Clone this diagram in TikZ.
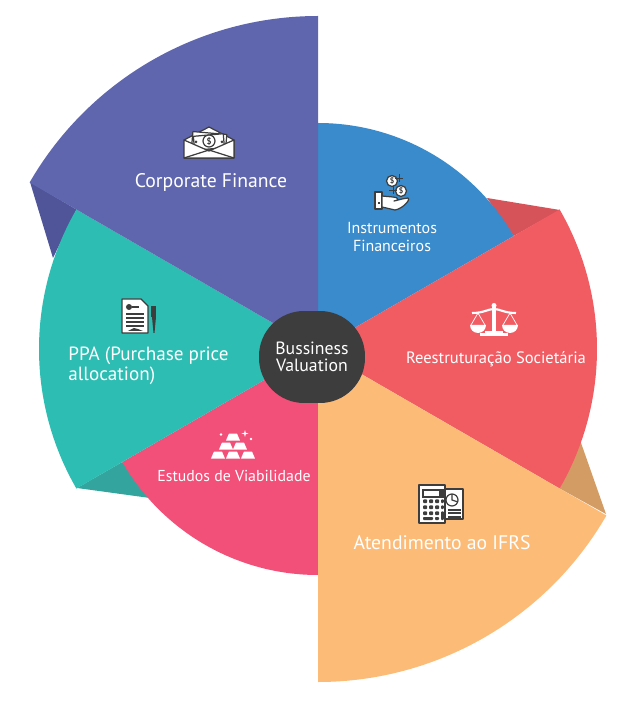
\documentclass[tikz,border=0pt]{standalone}
\usepackage{fontspec}
\setmainfont{PT Sans}
\definecolor{purplearm}{HTML}{6066AE}
\definecolor{purpledark}{HTML}{4F5598}
\definecolor{bluearm}{HTML}{398BCB}
\definecolor{redarm}{HTML}{F15C63}
\definecolor{reddark}{HTML}{D65359}
\definecolor{orangearm}{HTML}{FDBB78}
\definecolor{orangedark}{HTML}{D49C65}
\definecolor{pinkarm}{HTML}{F24F79}
\definecolor{tealarm}{HTML}{2DBDB3}
\definecolor{tealdark}{HTML}{33A59E}
\definecolor{corefill}{HTML}{3D3D3D}
\tikzset{
  lbl/.style={text=white, inner sep=0pt, align=center},
  iconw/.style={fill=white, draw=corefill, line width=0.7pt, line join=round},
  iconk/.style={draw=corefill, line width=0.7pt},
}
\begin{document}
\begin{tikzpicture}[x=0.02cm, y=0.02cm]
\useasboundingbox (-318,-364) rectangle (307,349);
\fill[white] (-318,-364) rectangle (307,349);
% shadows
\fill[purpledark] (-288,167) -- (-265,91) -- (150:279) -- cycle;
\fill[tealdark] (-241,-139) -- (-168,-149) -- (210:226) -- cycle;
\fill[reddark] (242,139) -- (169,151) -- (30:226) -- cycle;
\fill[orangedark] (288,-165) -- (262,-91) -- (-30:279) -- cycle;
% slices
\fill[bluearm] (0,0) -- (30:226) arc[start angle=30, end angle=90, radius=226] -- cycle;
\fill[pinkarm] (0,0) -- (210:226) arc[start angle=210, end angle=270, radius=226] -- cycle;
\fill[tealarm] (0,0) -- (150:279) arc[start angle=150, end angle=210, radius=279] -- cycle;
\fill[redarm] (0,0) -- (-30:279) arc[start angle=-30, end angle=30, radius=279] -- cycle;
\fill[purplearm] (0,0) -- (90:333) arc[start angle=90, end angle=150, radius=333] -- cycle;
\fill[orangearm] (0,0) -- (-90:333) arc[start angle=-90, end angle=-30, radius=333] -- cycle;

\node[fill=corefill, rounded corners=0.9cm, minimum width=2.12cm, minimum height=1.84cm, lbl, font=\fontsize{10.1}{9.8}\selectfont] (core) at (-6,-8) {Bussiness\\Valuation};

\node[lbl, font=\fontsize{11.2}{12}\selectfont] (corporate) at (-107,167) {Corporate Finance};
\node[lbl, font=\fontsize{9.1}{10.2}\selectfont] (instrumentos) at (74,112) {Instrumentos\\Financeiros};
\node[lbl, font=\fontsize{9.4}{12}\selectfont] (reestruturacao) at (178,-10) {Reestruturação Societária};
\node[lbl, font=\fontsize{11.2}{12}\selectfont] (atendimento) at (124,-194) {Atendimento ao IFRS};
\node[lbl, font=\fontsize{10.9}{11.4}\selectfont, align=left] (ppa) at (-169.5,-17) {PPA (Purchase price\\allocation)};
\node[lbl, font=\fontsize{9}{10}\selectfont] (estudos) at (-84,-127) {Estudos de Viabilidade};

% envelope
\begin{scope}[shift={(-109,206)}]
\path[iconw] (-25,3) -- (0,16) -- (25,3) -- (25,-15) -- (-25,-15) -- cycle;
\path[iconw, rotate=-5] (-17,-6) rectangle (17,10);
\path[iconw, rotate=5] (-15,-6) rectangle (15,8);
\draw[iconk, fill=white] (0,2) circle (6);
\node[inner sep=0pt, text=corefill, font=\fontsize{5}{5}\selectfont\bfseries] (cash) at (0,2) {\$};
\fill[corefill] (-13,1) circle (1.5) (13,1) circle (1.5);
\path[iconw] (-25,3) -- (0,-8) -- (25,3) -- (25,-15) -- (-25,-15) -- cycle;
\draw[iconk] (-25,-15) -- (0,-7) -- (25,-15);
\end{scope}
% hand with coins
\begin{scope}[shift={(74,157)}]
\path[iconw] (-17,-17) rectangle (-10,0);
\fill[corefill] (-14,-12) rectangle (-12,-10);
\path[iconw] (-10,-4) -- (1,-5) .. controls (7,-5) and (7,-9) .. (2,-9) -- (10,-7) -- (16,-6) .. controls (19,-8) and (10,-17) .. (3,-18) -- (-10,-15) -- cycle;
\draw[iconk, fill=white] (0,11) circle (5.5);
\draw[iconk, fill=white] (9,1) circle (5.5);
\node[inner sep=0pt, text=corefill, font=\fontsize{4.5}{4.5}\selectfont\bfseries] (coin1) at (0,11) {\$};
\node[inner sep=0pt, text=corefill, font=\fontsize{4.5}{4.5}\selectfont\bfseries] (coin2) at (9,1) {\$};
\draw[corefill, line width=0.4pt] (7,10) -- (7,18) (3,14) -- (11,14);
\draw[corefill, line width=0.4pt] (1,-2) -- (1,6) (-3,2) -- (5,2);
\end{scope}
% scales
\begin{scope}[shift={(176,29)}]
\fill[white] (-1.7,-11) rectangle (1.7,14);
\fill[white] (0,14.5) circle (2.5);
\fill[white] (-14,-16) rectangle (14,-13);
\fill[white] (-9,-13) rectangle (9,-11);
\draw[white, line width=1.2pt] (-22,7) .. controls (-10,7) and (-6,11) .. (0,11) .. controls (6,11) and (10,7) .. (22,7);
\draw[white, line width=0.4pt] (-16,7) -- (-23,-5) (-16,7) -- (-9,-5) (16,7) -- (9,-5) (16,7) -- (23,-5);
\fill[white] (-24,-5) -- (-8,-5) arc[start angle=0, end angle=-180, radius=8] -- cycle;
\fill[white] (8,-5) -- (24,-5) arc[start angle=0, end angle=-180, radius=8] -- cycle;
\end{scope}
% document and pen
\begin{scope}[shift={(-178,32)}]
\path[iconw] (-18,18) -- (1,18) -- (8,11) -- (8,-16) -- (-18,-16) -- cycle;
\fill[corefill] (-11,10) circle (3);
\fill[corefill] (-8,9) rectangle (-1,11);
\foreach \ypos in {4,0,-4,-8}
  \fill[corefill] (-14,\ypos) rectangle (4,\ypos-1.8);
\fill[corefill] (-12,-14) -- (-6,-11) -- (-2,-12) -- (3,-14) -- cycle;
\fill[corefill] (11.5,11) rectangle (16.5,0);
\fill[corefill] (12,0) -- (16,0) -- (14.5,-16) -- (13.5,-16) -- cycle;
\end{scope}
% gold bars
\begin{scope}[shift={(-85,-95)}]
\foreach \xpos/\ypos in {0/7, -7/-2, 7/-2, -15/-11, 0/-11, 15/-11}
  \fill[white] (\xpos-7,\ypos-3.5) -- (\xpos-4,\ypos+3.5) -- (\xpos+4,\ypos+3.5) -- (\xpos+7,\ypos-3.5) -- cycle;
\fill[white] (12,14) -- (12.8,11.2) -- (15.5,10.5) -- (12.8,9.8) -- (12,7) -- (11.2,9.8) -- (8.5,10.5) -- (11.2,11.2) -- cycle;
\fill[white] (-12,9.5) circle (1.3);
\fill[white] (18,5) circle (1.3);
\end{scope}
% calculator and chart
\begin{scope}[shift={(124,-156)}]
\path[iconw] (3,16) rectangle (21,-14);
\draw[iconk, fill=white] (10,5) circle (6);
\draw[iconk] (10,11) -- (10,5) -- (16,3);
\draw[corefill, line width=0.6pt] (6,-5) -- (19,-5) (6,-8) -- (19,-8) (6,-12) -- (19,-12);
\path[iconw] (-23,20) rectangle (3,-18);
\path[iconk] (-19,15) rectangle (1,8);
\fill[corefill] (-3,15) rectangle (0,9);
\foreach \xpos in {-19,-13,-7} \foreach \ypos in {2,-4,-10}
  \fill[corefill, rounded corners=0.5pt] (\xpos,\ypos) rectangle (\xpos+4.2,\ypos+3.6);
\fill[corefill, rounded corners=0.5pt] (-1,2) rectangle (1.8,5.6);
\fill[corefill, rounded corners=0.5pt] (-1,-4) rectangle (1.8,-0.4);
\fill[corefill, rounded corners=0.5pt] (-1,-15) rectangle (1.8,-6.4);
\fill[corefill, rounded corners=0.5pt] (-19,-15) rectangle (-9,-12);
\fill[corefill, rounded corners=0.5pt] (-7,-15) rectangle (-3,-12);
\end{scope}
\end{tikzpicture}
\end{document}
